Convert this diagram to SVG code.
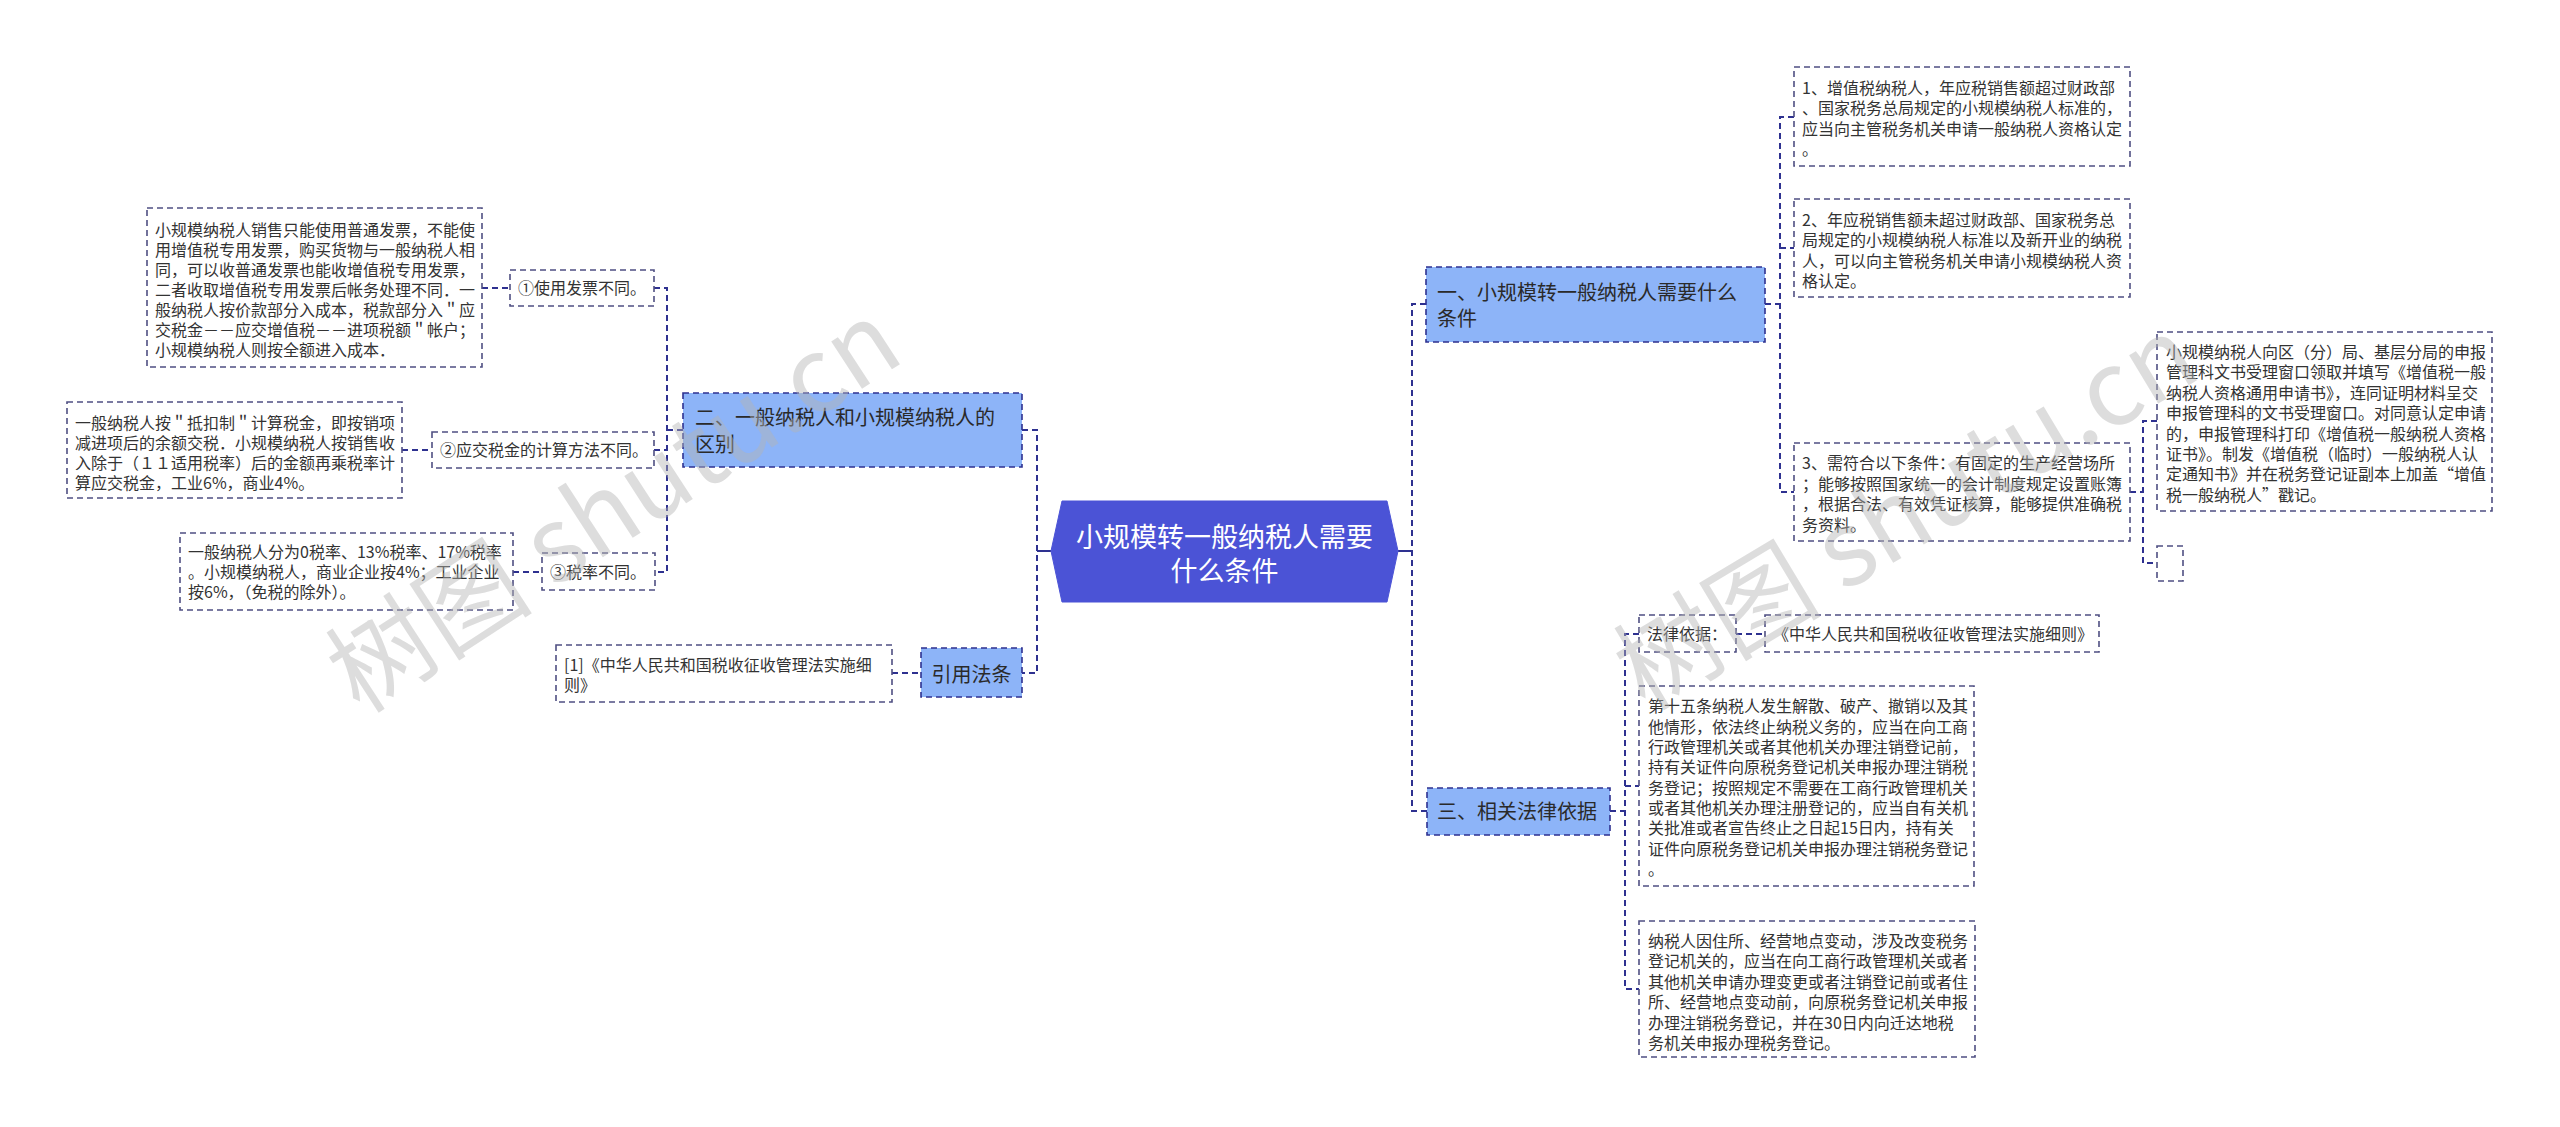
<svg xmlns="http://www.w3.org/2000/svg" width="2560" height="1127" viewBox="0 0 2560 1127">
<style>
.bg{fill:#ffffff}
.box{fill:#ffffff;stroke:#4f4f82;stroke-width:1.6;stroke-dasharray:6 4}
.l1{fill:#8db4f8;stroke:#2e3190;stroke-width:1.6;stroke-dasharray:6 4}
.root{fill:#4b53d6;stroke:#4b53d6;stroke-width:1}
.conn{fill:none;stroke:#2e3190;stroke-width:2;stroke-dasharray:6 4}
.solid{fill:none;stroke:#2e3190;stroke-width:2}
text{font-family:"Noto Sans CJK SC","Microsoft YaHei","Noto Sans",sans-serif}
.t{font-size:16px;fill:#333333}
.t1{font-size:20px;fill:#2a2a2a}
.tr{font-size:27px;fill:#ffffff;text-anchor:middle}
.wm{font-size:104px;fill:#b4b4b4;fill-opacity:0.45}
</style>
<rect class="bg" x="0" y="0" width="2560" height="1127"/>

<g id="connectors">
  <path class="solid" d="M1051,551 H1037"/>
  <path class="conn" d="M1022,430 H1037 V673 H1022"/>
  <path class="solid" d="M1398,551 H1412"/>
  <path class="conn" d="M1426,304 H1412 V811 H1427"/>
  <path class="conn" d="M1765,304 H1780"/>
  <path class="conn" d="M1794,117 H1780 V492 H1794"/>
  <path class="conn" d="M1780,248 H1794"/>
  <path class="conn" d="M2130,492 H2143"/>
  <path class="conn" d="M2157,421 H2143 V563 H2157"/>
  <path class="conn" d="M1610,811 H1625"/>
  <path class="conn" d="M1639,634 H1625 V989 H1639"/>
  <path class="conn" d="M1625,786 H1639"/>
  <path class="conn" d="M1736,634 H1765"/>
  <path class="conn" d="M683,430 H667"/>
  <path class="conn" d="M654,288 H667 V572 H655"/>
  <path class="conn" d="M654,450 H667"/>
  <path class="conn" d="M482,288 H510"/>
  <path class="conn" d="M402,450 H432"/>
  <path class="conn" d="M513,572 H542"/>
  <path class="conn" d="M892,673 H921"/>
</g>

<g id="root">
  <polygon class="root" points="1051,551 1062,501 1387,501 1398,551 1387,602 1062,602"/>
  <text class="tr"><tspan x="1224.5" y="547">小规模转一般纳税人需要</tspan><tspan x="1224.5" y="581">什么条件</tspan></text>
</g>

<g id="node-er">
  <rect class="l1" x="683" y="393" width="339" height="74"/>
  <text class="t1"><tspan x="695" y="425">二、一般纳税人和小规模纳税人的</tspan><tspan x="695" y="452">区别</tspan></text>
</g>

<g id="node-yin">
  <rect class="l1" x="921" y="648" width="101" height="49"/>
  <text class="t1" text-anchor="middle" x="971.5" y="682">引用法条</text>
</g>

<g id="node-1">
  <rect class="box" x="510" y="270" width="144" height="36"/>
  <text class="t" x="518" y="294">①使用发票不同。</text>
</g>
<g id="node-2">
  <rect class="box" x="432" y="432" width="222" height="36"/>
  <text class="t" x="440" y="456">②应交税金的计算方法不同。</text>
</g>
<g id="node-3">
  <rect class="box" x="542" y="553" width="113" height="37"/>
  <text class="t" x="550" y="578">③税率不同。</text>
</g>

<g id="node-A">
  <rect class="box" x="147" y="208" width="335" height="159"/>
  <text class="t">
    <tspan x="155" y="236">小规模纳税人销售只能使用普通发票，不能使</tspan>
    <tspan x="155" y="256">用增值税专用发票，购买货物与一般纳税人相</tspan>
    <tspan x="155" y="276">同，可以收普通发票也能收增值税专用发票，</tspan>
    <tspan x="155" y="296">二者收取增值税专用发票后帐务处理不同．一</tspan>
    <tspan x="155" y="316">般纳税人按价款部分入成本，税款部分入＂应</tspan>
    <tspan x="155" y="336">交税金－－应交增值税－－进项税额＂帐户；</tspan>
    <tspan x="155" y="356">小规模纳税人则按全额进入成本．</tspan>
  </text>
</g>

<g id="node-B">
  <rect class="box" x="67" y="402" width="335" height="96"/>
  <text class="t">
    <tspan x="75" y="429">一般纳税人按＂抵扣制＂计算税金，即按销项</tspan>
    <tspan x="75" y="449">减进项后的余额交税．小规模纳税人按销售收</tspan>
    <tspan x="75" y="469">入除于（１１适用税率）后的金额再乘税率计</tspan>
    <tspan x="75" y="489">算应交税金，工业6%，商业4%。</tspan>
  </text>
</g>

<g id="node-C">
  <rect class="box" x="180" y="533" width="333" height="77"/>
  <text class="t">
    <tspan x="188" y="558">一般纳税人分为0税率、13%税率、17%税率</tspan>
    <tspan x="188" y="578">。小规模纳税人，商业企业按4%；工业企业</tspan>
    <tspan x="188" y="598">按6%，（免税的除外）。</tspan>
  </text>
</g>

<g id="node-ref">
  <rect class="box" x="556" y="645" width="336" height="57"/>
  <text class="t">
    <tspan x="564" y="671">[1]《中华人民共和国税收征收管理法实施细</tspan>
    <tspan x="564" y="691">则》</tspan>
  </text>
</g>

<g id="node-yi">
  <rect class="l1" x="1426" y="267" width="339" height="75"/>
  <text class="t1"><tspan x="1437" y="300">一、小规模转一般纳税人需要什么</tspan><tspan x="1437" y="326">条件</tspan></text>
</g>

<g id="node-c1">
  <rect class="box" x="1794" y="67" width="336" height="99"/>
  <text class="t">
    <tspan x="1802" y="94">1、增值税纳税人，年应税销售额超过财政部</tspan>
    <tspan x="1802" y="114">、国家税务总局规定的小规模纳税人标准的，</tspan>
    <tspan x="1802" y="135">应当向主管税务机关申请一般纳税人资格认定</tspan>
    <tspan x="1802" y="155">。</tspan>
  </text>
</g>

<g id="node-c2">
  <rect class="box" x="1794" y="199" width="336" height="98"/>
  <text class="t">
    <tspan x="1802" y="226">2、年应税销售额未超过财政部、国家税务总</tspan>
    <tspan x="1802" y="246">局规定的小规模纳税人标准以及新开业的纳税</tspan>
    <tspan x="1802" y="267">人，可以向主管税务机关申请小规模纳税人资</tspan>
    <tspan x="1802" y="287">格认定。</tspan>
  </text>
</g>

<g id="node-c3">
  <rect class="box" x="1794" y="443" width="336" height="98"/>
  <text class="t">
    <tspan x="1802" y="469">3、需符合以下条件：有固定的生产经营场所</tspan>
    <tspan x="1802" y="490">；能够按照国家统一的会计制度规定设置账簿</tspan>
    <tspan x="1802" y="510">，根据合法、有效凭证核算，能够提供准确税</tspan>
    <tspan x="1802" y="531">务资料。</tspan>
  </text>
</g>

<g id="node-c4">
  <rect class="box" x="2157" y="332" width="335" height="179"/>
  <text class="t">
    <tspan x="2166" y="358">小规模纳税人向区（分）局、基层分局的申报</tspan>
    <tspan x="2166" y="378">管理科文书受理窗口领取并填写《增值税一般</tspan>
    <tspan x="2166" y="399">纳税人资格通用申请书》，连同证明材料呈交</tspan>
    <tspan x="2166" y="419">申报管理科的文书受理窗口。对同意认定申请</tspan>
    <tspan x="2166" y="440">的，申报管理科打印《增值税一般纳税人资格</tspan>
    <tspan x="2166" y="460">证书》。制发《增值税（临时）一般纳税人认</tspan>
    <tspan x="2166" y="480">定通知书》并在税务登记证副本上加盖“增值</tspan>
    <tspan x="2166" y="501">税一般纳税人”戳记。</tspan>
  </text>
</g>

<g id="node-empty">
  <rect class="box" x="2157" y="546" width="26" height="35"/>
</g>

<g id="node-san">
  <rect class="l1" x="1427" y="788" width="183" height="47"/>
  <text class="t1" x="1437" y="819">三、相关法律依据</text>
</g>

<g id="node-falv">
  <rect class="box" x="1639" y="615" width="97" height="37"/>
  <text class="t" x="1647" y="640">法律依据：</text>
</g>

<g id="node-xize">
  <rect class="box" x="1765" y="615" width="334" height="37"/>
  <text class="t" x="1773" y="640">《中华人民共和国税收征收管理法实施细则》</text>
</g>

<g id="node-15">
  <rect class="box" x="1639" y="686" width="335" height="200"/>
  <text class="t">
    <tspan x="1648" y="712">第十五条纳税人发生解散、破产、撤销以及其</tspan>
    <tspan x="1648" y="733">他情形，依法终止纳税义务的，应当在向工商</tspan>
    <tspan x="1648" y="753">行政管理机关或者其他机关办理注销登记前，</tspan>
    <tspan x="1648" y="773">持有关证件向原税务登记机关申报办理注销税</tspan>
    <tspan x="1648" y="794">务登记；按照规定不需要在工商行政管理机关</tspan>
    <tspan x="1648" y="814">或者其他机关办理注册登记的，应当自有关机</tspan>
    <tspan x="1648" y="834">关批准或者宣告终止之日起15日内，持有关</tspan>
    <tspan x="1648" y="855">证件向原税务登记机关申报办理注销税务登记</tspan>
    <tspan x="1648" y="875">。</tspan>
  </text>
</g>

<g id="node-zhusuo">
  <rect class="box" x="1639" y="921" width="336" height="136"/>
  <text class="t">
    <tspan x="1648" y="947">纳税人因住所、经营地点变动，涉及改变税务</tspan>
    <tspan x="1648" y="967">登记机关的，应当在向工商行政管理机关或者</tspan>
    <tspan x="1648" y="988">其他机关申请办理变更或者注销登记前或者住</tspan>
    <tspan x="1648" y="1008">所、经营地点变动前，向原税务登记机关申报</tspan>
    <tspan x="1648" y="1029">办理注销税务登记，并在30日内向迁达地税</tspan>
    <tspan x="1648" y="1049">务机关申报办理税务登记。</tspan>
  </text>
</g>

<g id="watermarks">
  <text class="wm" x="360" y="715" transform="rotate(-33 360 715)">树图 shutu.cn</text>
  <text class="wm" x="1645" y="712" transform="rotate(-31 1645 712)">树图 shutu.cn</text>
</g>
</svg>
